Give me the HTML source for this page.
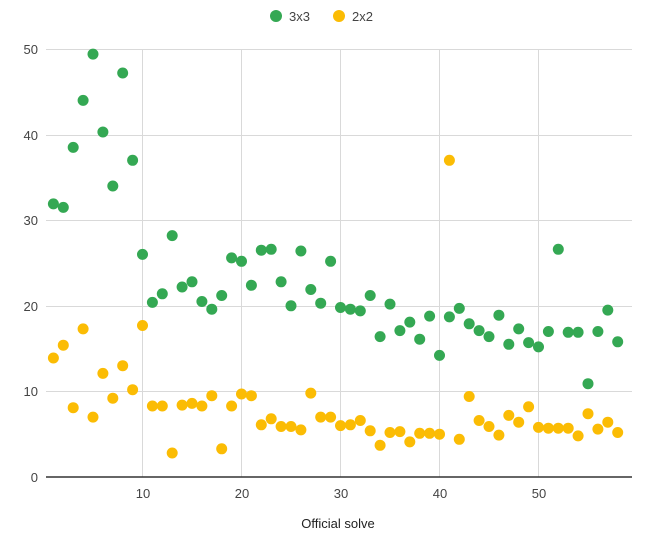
<!DOCTYPE html>
<html><head><meta charset="utf-8"><style>
body{margin:0;background:#fff;}
svg{display:block;font-family:"Liberation Sans",Arial,sans-serif;}
</style></head><body>
<svg id="c" width="646" height="534" viewBox="0 0 646 534" xmlns="http://www.w3.org/2000/svg">
<rect width="646" height="534" fill="#fff"/>
<g stroke="#d9d9d9" stroke-width="1">
<line x1="46" x2="632" y1="49.5" y2="49.5"/>
<line x1="46" x2="632" y1="135.5" y2="135.5"/>
<line x1="46" x2="632" y1="220.5" y2="220.5"/>
<line x1="46" x2="632" y1="306.5" y2="306.5"/>
<line x1="46" x2="632" y1="391.5" y2="391.5"/>
<line x1="142.5" x2="142.5" y1="49" y2="477"/>
<line x1="241.5" x2="241.5" y1="49" y2="477"/>
<line x1="340.5" x2="340.5" y1="49" y2="477"/>
<line x1="439.5" x2="439.5" y1="49" y2="477"/>
<line x1="538.5" x2="538.5" y1="49" y2="477"/>
</g>
<line x1="46" x2="632" y1="477" y2="477" stroke="#333" stroke-width="1.5"/>
<g fill="#444" font-size="13" text-anchor="end">
<text x="38" y="54">50</text><text x="38" y="140">40</text><text x="38" y="225">30</text>
<text x="38" y="311">20</text><text x="38" y="396">10</text><text x="38" y="482">0</text>
</g>
<g fill="#444" font-size="13" text-anchor="middle">
<text x="143" y="498">10</text><text x="242" y="498">20</text><text x="341" y="498">30</text>
<text x="440" y="498">40</text><text x="539" y="498">50</text>
<text x="338" y="528" fill="#222">Official solve</text>
</g>
<circle cx="276" cy="16" r="6" fill="#34a853"/>
<text x="289" y="21" font-size="13" fill="#444">3x3</text>
<circle cx="339" cy="16" r="6" fill="#fbbc04"/>
<text x="352" y="21" font-size="13" fill="#444">2x2</text>
<g id="pts"></g>
</svg>
<script>
var g=[31.9,31.5,38.5,44,49.4,40.3,34,47.2,37,26,20.4,21.4,28.2,22.2,22.8,20.5,19.6,21.2,25.6,25.2,22.4,26.5,26.6,22.8,20,26.4,21.9,20.3,25.2,19.8,19.6,19.4,21.2,16.4,20.2,17.1,18.1,16.1,18.8,14.2,18.7,19.7,17.9,17.1,16.4,18.9,15.5,17.3,15.7,15.2,17,26.6,16.9,16.9,10.9,17,19.5,15.8];
var y=[13.9,15.4,8.1,17.3,7,12.1,9.2,13,10.2,17.7,8.3,8.3,2.8,8.4,8.6,8.3,9.5,3.3,8.3,9.7,9.5,6.1,6.8,5.9,5.9,5.5,9.8,7,7,6,6.1,6.6,5.4,3.7,5.2,5.3,4.1,5.1,5.1,5,37,4.4,9.4,6.6,5.9,4.9,7.2,6.4,8.2,5.8,5.7,5.7,5.7,4.8,7.4,5.6,6.4,5.2];
var s='';
function add(a,c){for(var i=0;i<a.length;i++){var cx=43.5+9.9*(i+1),cy=477-8.56*a[i];s+='<circle cx="'+cx.toFixed(1)+'" cy="'+cy.toFixed(1)+'" r="5.5" fill="'+c+'"/>';}}
add(g,'#34a853');add(y,'#fbbc04');
document.getElementById('pts').innerHTML=s;
</script>
</body></html>
